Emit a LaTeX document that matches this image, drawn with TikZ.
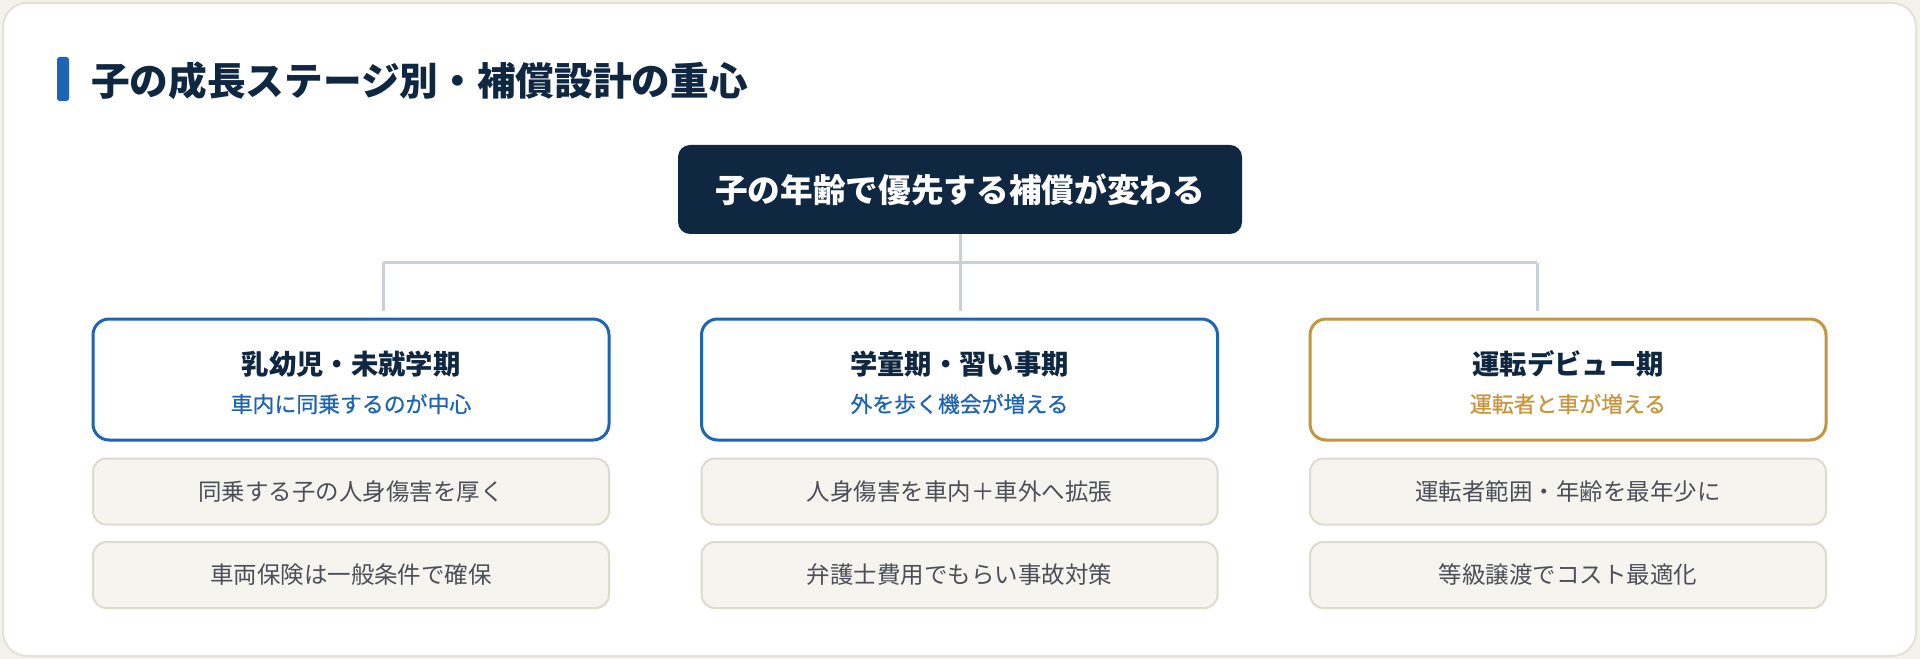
\documentclass[tikz,border=0pt]{standalone}
\usepackage{fontspec}
\setmainfont{Noto Sans CJK JP}
\newfontfamily\jpmedium[FakeBold=0.7]{Noto Sans CJK JP}
\definecolor{bgout}{HTML}{F3F2ED}
\definecolor{cardline}{HTML}{E3E1D8}
\definecolor{navy}{HTML}{0F2740}
\definecolor{stblue}{HTML}{1E64B4}
\definecolor{stgold}{HTML}{C4953F}
\definecolor{goldtext}{HTML}{C8963E}
\definecolor{itemfill}{HTML}{F5F4EF}
\definecolor{itemline}{HTML}{DDDACE}
\definecolor{itemtext}{HTML}{4B5058}
\definecolor{connc}{HTML}{CAD0D8}
\begin{document}
\begin{tikzpicture}[x=0.75pt,y=-0.75pt,
  topbox/.style={fill=navy,rounded corners=9pt,inner sep=0pt,outer sep=0pt,
    minimum width={564*0.75pt},minimum height={89*0.75pt}},
  stagebox/.style={draw=#1,line width=2.25pt,fill=white,rounded corners=12pt,inner sep=0pt,outer sep=0pt,
    minimum width={516*0.75pt},minimum height={121*0.75pt}},
  itembox/.style={draw=itemline,line width=1.5pt,fill=itemfill,rounded corners=10pt,inner sep=0pt,outer sep=0pt,
    minimum width={516*0.75pt},minimum height={66*0.75pt},
    font=\fontsize{17.6pt}{20pt}\selectfont,text=itemtext},
  headtxt/.style={inner sep=0pt,font=\bfseries\fontsize{20.5pt}{24pt}\selectfont,text=navy},
  subtxt/.style={inner sep=0pt,font=\jpmedium\fontsize{16.4pt}{19pt}\selectfont,text=#1},
  conn/.style={draw=connc,line width=2.25pt}
]
\useasboundingbox (0,0) rectangle (1920,659);
\fill[bgout] (0,0) rectangle (1920,659);
\draw[cardline,line width=1.5pt,fill=white,rounded corners=18pt] (3,3) rectangle (1916,656);
% title
\fill[stblue,rounded corners=2pt] (57,57) rectangle (69,101);
\node[anchor=west,inner sep=0pt,text=navy,font=\bfseries\fontsize{29pt}{34pt}\selectfont] (title) at (91,81) {子の成長ステージ別・補償設計の重心};
% top node
\node[topbox,text=white,font=\bfseries\fontsize{24.5pt}{28pt}\selectfont] (top) at (960,189.5) {子の年齢で優先する補償が変わる};
% stage boxes
\node[stagebox=stblue] (s1) at (351,379.5) {};
\node[stagebox=stblue] (s2) at (959.5,379.5) {};
\node[stagebox=stgold] (s3) at (1568,379.5) {};
\node[headtxt] (s1h) at (351,364) {乳幼児・未就学期};
\node[headtxt] (s2h) at (959.5,364) {学童期・習い事期};
\node[headtxt] (s3h) at (1568,364) {運転デビュー期};
\node[subtxt=stblue] (s1s) at (351,404) {車内に同乗するのが中心};
\node[subtxt=stblue] (s2s) at (959.5,404) {外を歩く機会が増える};
\node[subtxt=goldtext] (s3s) at (1568,404) {運転者と車が増える};
% items
\node[itembox] (a1) at (351,491.5) {同乗する子の人身傷害を厚く};
\node[itembox] (a2) at (351,575) {車両保険は一般条件で確保};
\node[itembox] (b1) at (959.5,491.5) {人身傷害を車内＋車外へ拡張};
\node[itembox] (b2) at (959.5,575) {弁護士費用でもらい事故対策};
\node[itembox] (c1) at (1568,491.5) {運転者範囲・年齢を最年少に};
\node[itembox] (c2) at (1568,575) {等級譲渡でコスト最適化};
% connectors
\coordinate (hub) at (960,263);
\coordinate (jl) at (383,263);
\coordinate (jr) at (1537,263);
\draw[conn] (top.south) -- (hub);
\draw[conn] (jl) -- (jr);
\draw[conn,shorten >=6pt] (jl) -- (jl |- s1.north);
\draw[conn,shorten >=6pt] (hub) -- (hub |- s2.north);
\draw[conn,shorten >=6pt] (jr) -- (jr |- s3.north);
\end{tikzpicture}
\end{document}
